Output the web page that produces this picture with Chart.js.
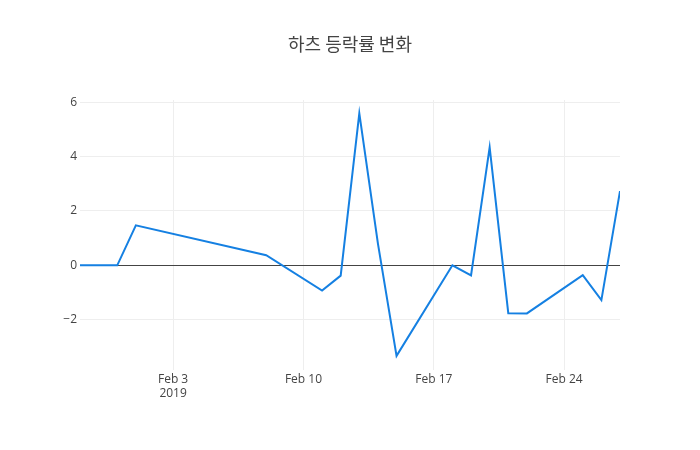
<!DOCTYPE html>
<html>
<head>
<meta charset="utf-8">
<script src="https://cdn.jsdelivr.net/npm/chart.js@4/dist/chart.umd.min.js"></script>
<style>
  body { margin: 0; background: #fff; }
</style>
</head>
<body>
<canvas id="grafico-linha" width="700" height="450"></canvas>
<script>
// dados (dias de pregao)
const datas = ["2019-01-29", "2019-01-30", "2019-01-31", "2019-02-01", "2019-02-08",
  "2019-02-11", "2019-02-12", "2019-02-13", "2019-02-14", "2019-02-15",
  "2019-02-18", "2019-02-19", "2019-02-20", "2019-02-21", "2019-02-22",
  "2019-02-25", "2019-02-26", "2019-02-27"];
const variacao = [0, 0, 0, 1.47, 0.37, -0.93, -0.38, 5.59, 0.8, -3.33,
  0, -0.37, 4.34, -1.76, -1.77, -0.36, -1.28, 2.73];
const ticksX = ["2019-02-03", "2019-02-10", "2019-02-17", "2019-02-24"];
const rotulosX = [["Feb 3", "2019"], "Feb 10", "Feb 17", "Feb 24"];
const ticksY = [-2, 0, 2, 4, 6];

const dia = s => Date.parse(s + "T00:00:00Z") / 86400000;  // data -> numero de dias
const pontos = datas.map((d, i) => ({ x: dia(d), y: variacao[i] }));
const posTicksX = ticksX.map(dia);

const fonte = { family: "'Open Sans', 'Noto Sans', sans-serif", size: 12 };

new Chart(document.getElementById("grafico-linha"), {
  type: "line",
  data: {
    datasets: [{
      data: pontos,
      borderColor: "#1580e2",
      borderWidth: 2,
      pointRadius: 0,
      tension: 0,
      fill: false
    }]
  },
  options: {
    responsive: false,
    animation: false,
    layout: { padding: 0 },
    plugins: {
      legend: { display: false },
      tooltip: { enabled: false },
      title: {
        display: true,
        text: "하츠 등락률 변화",
        color: "#444",
        font: { family: "'Noto Sans CJK KR', 'Open Sans', sans-serif", size: 18, weight: "normal", lineHeight: 1.2 },
        padding: { top: 33, bottom: 45.4 }
      }
    },
    scales: {
      x: {
        type: "linear",
        min: dia(datas[0]),
        max: dia(datas[datas.length - 1]),
        afterFit: s => { s.height = 80; },
        afterBuildTicks: s => { s.ticks = posTicksX.map(v => ({ value: v })); },
        ticks: {
          autoSkip: false,
          maxRotation: 0,
          padding: 2,
          color: "#444",
          font: fonte,
          callback: (v) => rotulosX[posTicksX.indexOf(v)]
        },
        grid: { color: "#eee", drawTicks: false },
        border: { display: false }
      },
      y: {
        min: -3.85,
        max: 6.08,
        afterFit: s => { s.width = 80; },
        afterBuildTicks: s => { s.ticks = ticksY.map(v => ({ value: v })); },
        ticks: {
          padding: 3,
          color: "#444",
          font: fonte,
          callback: v => (v < 0 ? "\u2212" + Math.abs(v) : String(v))
        },
        grid: {
          color: c => (c.tick && c.tick.value === 0 ? "#444" : "#eee"),
          drawTicks: false
        },
        border: { display: false }
      },
      // eixo vazio so para reservar a margem direita
      margemDireita: {
        axis: "y",
        position: "right",
        afterFit: s => { s.width = 80; },
        ticks: { display: false },
        grid: { display: false },
        border: { display: false }
      }
    }
  }
});
</script>
</body>
</html>
